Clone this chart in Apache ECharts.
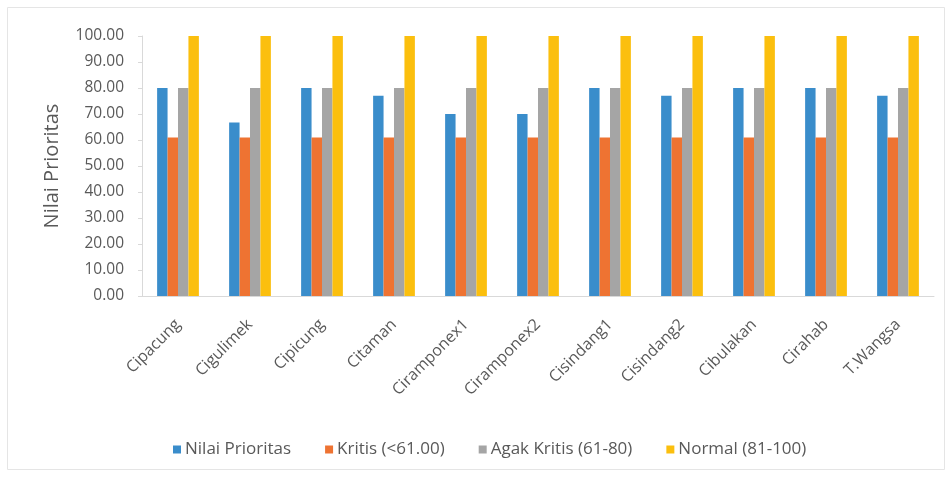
<!DOCTYPE html>
<html><head><meta charset="utf-8">
<script src="https://cdn.jsdelivr.net/npm/echarts@6/dist/echarts.min.js"></script>
<style>html,body{margin:0;padding:0;background:#fff}#c{width:952px;height:477px}</style>
</head><body><div id="c"></div>
<script>
var categories = ['Cipacung','Cigulimek','Cipicung','Citaman','Ciramponex1','Ciramponex2','Cisindang1','Cisindang2','Cibulakan','Cirahab','T.Wangsa'];
var nilaiPrioritas = [80, 66.7, 80, 77, 70, 70, 80, 77, 80, 80, 77];
var kritis = [61, 61, 61, 61, 61, 61, 61, 61, 61, 61, 61];
var agakKritis = [80, 80, 80, 80, 80, 80, 80, 80, 80, 80, 80];
var normal = [100, 100, 100, 100, 100, 100, 100, 100, 100, 100, 100];
var seriesNames = ['Nilai Prioritas','Kritis (<61.00)','Agak Kritis (61-80)','Normal (81-100)'];
var colors = ['#3A8DCB','#EE7332','#A5A5A5','#FBBF0E'];

var chart = echarts.init(document.getElementById('c'));
var font = '"Open Sans", sans-serif';
var data = [nilaiPrioritas, kritis, agakKritis, normal];
chart.setOption({
  animation: false,
  textStyle: {fontFamily: font},
  color: colors,
  grid: {left: 142, right: 18, top: 36, bottom: 181},
  legend: {
    top: 436, left: 168, itemWidth: 8, itemHeight: 8, itemGap: 34,
    icon: 'rect',
    textStyle: {fontSize: 17, color: '#595959', fontFamily: font, padding: [0,0,0,-1]},
    data: seriesNames
  },
  xAxis: {
    type: 'category', data: categories,
    axisLine: {lineStyle: {color: '#D9D9D9'}},
    axisTick: {show: false},
    axisLabel: {rotate: 45, fontSize: 16, color: '#595959', margin: 26, interval: 0}
  },
  yAxis: {
    type: 'value', min: 0, max: 100, interval: 10,
    name: 'Nilai Prioritas', nameLocation: 'middle', nameGap: 80, nameRotate: 90,
    nameTextStyle: {fontSize: 20, color: '#595959'},
    axisLine: {show: true, lineStyle: {color: '#D9D9D9'}},
    axisTick: {show: true, length: 4, lineStyle: {color: '#D9D9D9'}},
    splitLine: {show: false},
    axisLabel: {fontSize: 15.5, color: '#595959', margin: 18, formatter: function(v){return v.toFixed(2);}}
  },
  series: seriesNames.map(function(n, i){
    return {name: n, type: 'bar', data: data[i], barGap: '0%', barCategoryGap: '42%'};
  }),
  graphic: [{type: 'rect', shape: {x: 7.5, y: 7.5, width: 937, height: 462}, style: {fill: 'none', stroke: '#E5E5E5', lineWidth: 1}, silent: true}]
});
</script></body></html>
